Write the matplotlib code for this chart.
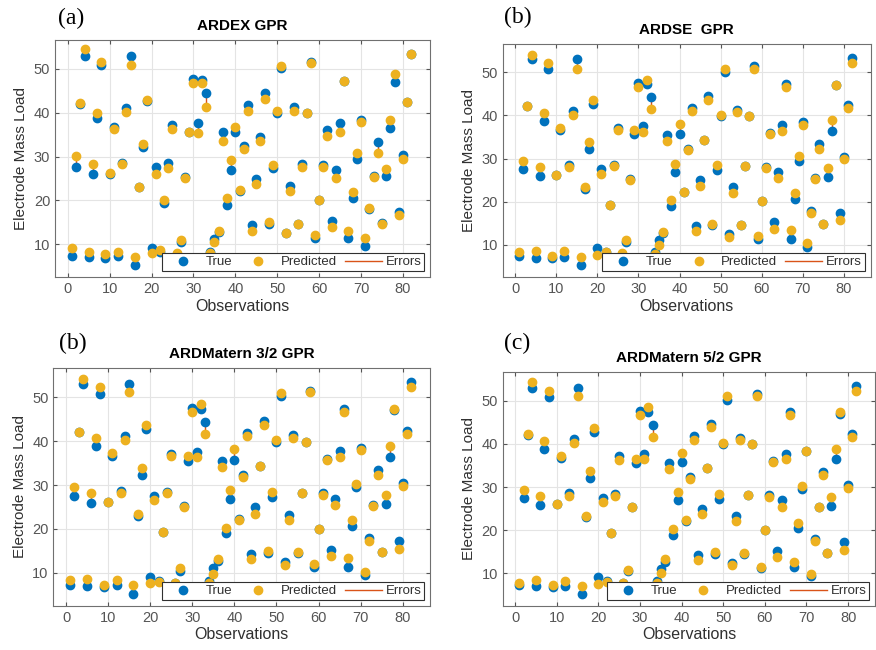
import numpy as np
from matplotlib import pyplot as plt
from matplotlib.lines import Line2D

plt.rcParams['font.family'] = ['Liberation Sans', 'DejaVu Sans']

# observation index
obs = np.arange(1, 83)

# measured electrode mass load (same in every panel)
true_vals = [7.3, 27.5, 42.1, 53.0, 7.0, 25.9, 38.8, 50.8, 6.8, 26.1,
             36.7, 7.2, 28.6, 41.1, 53.0, 5.2, 23.0, 32.2, 42.7, 9.1,
             27.5, 8.2, 19.3, 28.5, 37.1, 7.8, 10.5, 25.3, 35.6, 47.6,
             37.6, 47.4, 44.4, 8.2, 11.1, 12.7, 35.5, 19.0, 26.9, 35.7,
             22.2, 32.3, 41.8, 14.3, 24.9, 34.4, 44.5, 14.5, 27.3, 39.9,
             50.2, 12.5, 23.3, 41.3, 14.5, 28.2, 39.9, 51.5, 11.3, 20.1,
             28.1, 36.0, 15.3, 26.9, 37.7, 47.3, 11.4, 20.6, 29.5, 38.4,
             9.5, 17.9, 25.5, 33.4, 14.8, 25.6, 36.5, 47.0, 17.3, 30.4,
             42.4, 53.4]

pred_ardex = [9.0, 30.1, 42.3, 54.6, 8.2, 28.3, 40.0, 51.5, 7.8, 26.2,
              36.2, 8.1, 28.4, 40.2, 50.9, 7.1, 23.1, 32.9, 42.8, 7.9,
              26.1, 8.6, 20.1, 27.4, 36.3, 7.9, 10.9, 25.0, 35.7, 46.8,
              35.4, 46.9, 41.2, 7.9, 10.4, 12.9, 33.5, 20.6, 29.2, 36.7,
              22.3, 31.7, 40.5, 13.1, 23.8, 33.6, 43.2, 15.0, 28.0, 40.5,
              50.6, 12.5, 22.1, 40.5, 14.6, 27.6, 39.9, 51.4, 12.1, 20.1,
              27.5, 34.7, 14.0, 25.0, 35.6, 47.3, 13.1, 21.8, 30.8, 37.9,
              11.3, 18.2, 25.3, 30.8, 14.6, 27.1, 38.4, 48.9, 16.7, 29.4,
              42.4, 53.4]

pred_ardse = [8.3, 29.4, 42.2, 54.0, 8.5, 28.0, 40.6, 52.1, 7.4, 26.1,
              37.2, 8.4, 28.1, 40.2, 50.9, 7.1, 23.4, 33.9, 43.5, 7.6,
              26.5, 8.2, 19.3, 28.3, 36.6, 8.0, 11.0, 25.1, 36.6, 46.5,
              36.2, 48.2, 41.6, 7.8, 9.9, 13.0, 34.1, 20.4, 28.8, 38.1,
              22.2, 31.9, 41.0, 13.1, 23.5, 34.4, 43.6, 14.9, 28.5, 40.2,
              50.8, 11.8, 22.1, 40.8, 14.6, 28.2, 39.9, 50.9, 12.1, 20.2,
              27.9, 35.6, 13.7, 25.4, 36.5, 46.6, 13.4, 22.0, 30.5, 37.8,
              10.3, 17.3, 25.2, 32.2, 14.8, 27.7, 38.9, 47.0, 15.6, 30.0,
              41.7, 52.2]

pred_m32 = [8.3, 29.5, 42.2, 54.2, 8.5, 28.1, 40.7, 52.3, 7.3, 26.1,
            37.3, 8.3, 28.1, 40.2, 51.1, 7.2, 23.4, 33.9, 43.6, 7.6,
            26.5, 8.0, 19.3, 28.3, 36.6, 7.7, 11.0, 25.1, 36.6, 46.6,
            36.3, 48.4, 41.6, 7.8, 9.8, 13.2, 34.1, 20.3, 28.8, 38.2,
            22.1, 31.9, 41.1, 13.2, 23.5, 34.4, 43.6, 14.9, 28.5, 40.3,
            51.0, 11.8, 22.1, 40.7, 14.8, 28.2, 39.9, 51.1, 12.0, 20.1,
            27.7, 35.7, 13.8, 25.4, 36.4, 46.7, 13.3, 22.0, 30.3, 38.0,
            10.2, 17.3, 25.2, 32.2, 14.8, 27.7, 38.8, 47.4, 15.5, 29.9,
            41.7, 52.4]

pred_m52 = [7.8, 29.3, 42.2, 54.4, 8.4, 27.9, 40.7, 52.3, 7.3, 26.1,
            37.3, 8.2, 27.9, 40.2, 51.1, 7.1, 23.4, 33.8, 43.6, 7.5,
            26.5, 7.9, 19.3, 28.0, 36.3, 7.8, 10.9, 25.3, 36.6, 46.8,
            36.4, 48.5, 41.5, 7.8, 10.1, 13.3, 34.1, 20.3, 28.8, 38.0,
            22.4, 31.8, 41.0, 13.2, 23.7, 34.5, 43.8, 14.9, 28.5, 40.3,
            51.2, 11.9, 22.1, 41.0, 14.8, 28.2, 40.0, 51.0, 11.4, 20.0,
            27.8, 35.9, 13.7, 25.4, 36.6, 46.8, 12.7, 21.7, 30.3, 38.3,
            9.9, 17.4, 25.4, 32.9, 14.8, 27.7, 38.8, 47.5, 15.4, 29.8,
            41.6, 52.3]

titles = ['ARDEX GPR', 'ARDSE  GPR', 'ARDMatern 3/2 GPR', 'ARDMatern 5/2 GPR']
letters = ['(a)', '(b)', '(b)', '(c)']
preds = [pred_ardex, pred_ardse, pred_m32, pred_m52]

# axes rectangles (figure fractions) and panel letter positions
rects = [[0.063, 0.574, 0.428, 0.365],
         [0.574, 0.574, 0.420, 0.359],
         [0.061, 0.068, 0.430, 0.366],
         [0.574, 0.068, 0.425, 0.360]]
letter_pos = [(0.066, 0.988), (0.575, 0.99), (0.067, 0.488), (0.575, 0.488)]

c_true = '#0072BD'
c_pred = '#EDB120'
c_err = '#D95319'

fig = plt.figure(figsize=(8.76, 6.5), dpi=100)

for k in range(4):
    ax = fig.add_axes(rects[k])
    t = np.array(true_vals)
    p = np.array(preds[k])
    ax.vlines(obs, t, p, color=c_err, lw=1, zorder=2)
    ax.plot(obs, t, 'o', color=c_true, ms=6, zorder=3)
    ax.plot(obs, p, 'o', color=c_pred, ms=6, zorder=4)

    ax.set_xlim(-3, 86.5)
    ax.set_ylim(2.5, 56.7)
    ax.set_xticks(range(0, 81, 10))
    ax.set_yticks(range(10, 51, 10))
    ax.grid(True, color='#e4e4e4', lw=0.8)
    ax.set_axisbelow(True)
    ax.tick_params(labelsize=10.5, labelcolor='#555555', color='#555555',
                   direction='in', length=3, top=True, right=True)
    for s in ax.spines.values():
        s.set_color('#707070')
    ax.set_title(titles[k], fontsize=11, fontweight='bold', pad=7)
    ax.set_xlabel('Observations', fontsize=11.5, color='#303030', labelpad=2)
    ax.set_ylabel('Electrode Mass Load', fontsize=11, color='#303030', labelpad=4)

    handles = [Line2D([], [], ls='', marker='o', color=c_true, ms=6),
               Line2D([], [], ls='', marker='o', color=c_pred, ms=6),
               Line2D([], [], color=c_err, lw=1)]
    leg = ax.legend(handles, ['True', 'Predicted', 'Errors'], loc='lower right',
                    ncol=3, fontsize=9.5, fancybox=False, framealpha=1,
                    borderpad=0.2, handletextpad=0.3, columnspacing=0.6,
                    handlelength=2.8, borderaxespad=0.45)
    leg.get_frame().set_edgecolor('#303030')
    leg.get_frame().set_linewidth(0.8)
    for txt in leg.get_texts():
        txt.set_color('#303030')

    fig.text(letter_pos[k][0], letter_pos[k][1], letters[k], fontsize=17,
             family='Liberation Serif', va='top', ha='left')

fig.savefig('out.png', dpi=100)
